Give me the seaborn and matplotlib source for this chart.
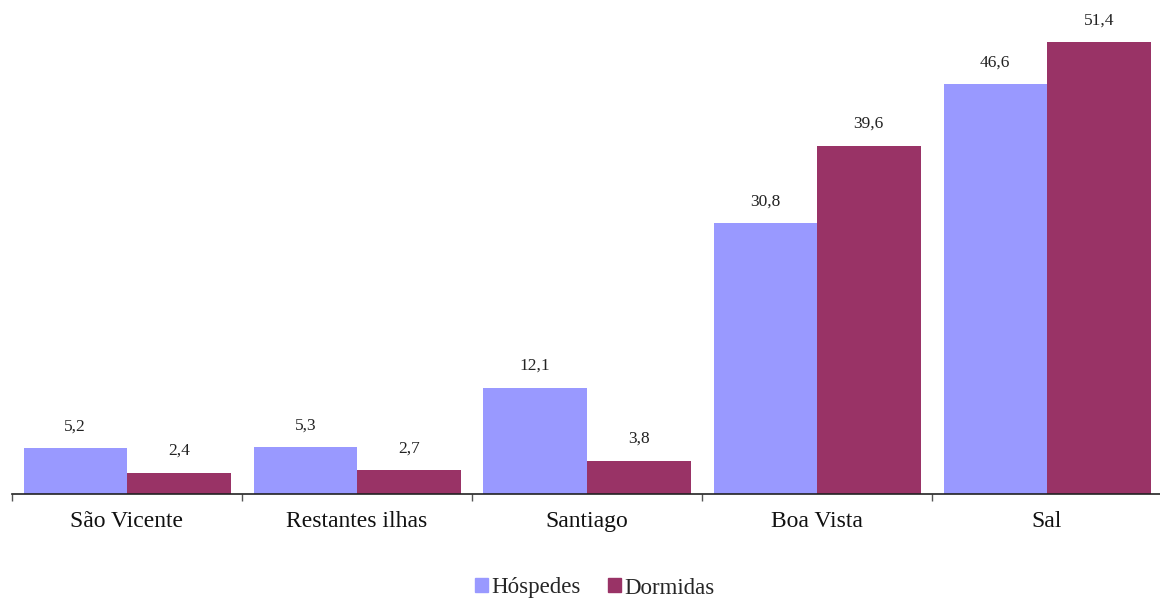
import matplotlib
matplotlib.use("Agg")
import matplotlib.pyplot as plt
import seaborn as sns
import pandas as pd
import numpy as np

ilhas = ["São Vicente", "Restantes ilhas", "Santiago", "Boa Vista", "Sal"]
hospedes = [5.2, 5.3, 12.1, 30.8, 46.6]
dormidas = [2.4, 2.7, 3.8, 39.6, 51.4]
series = ["Hóspedes", "Dormidas"]
cores = ["#9999FF", "#993366"]

df = pd.DataFrame({
    "ilha": ilhas * 2,
    "valor": hospedes + dormidas,
    "serie": [series[0]] * len(ilhas) + [series[1]] * len(ilhas),
})

sns.set_style("white")
plt.rcParams["font.family"] = ["Liberation Serif", "DejaVu Serif"]

fig = plt.figure(figsize=(11.6, 6.01), dpi=100)
ax = fig.add_axes([12 / 1160, 1 - 494 / 601, 1150 / 1160, 494 / 601])

sns.barplot(data=df, x="ilha", y="valor", hue="serie", order=ilhas,
            hue_order=series, palette=cores, width=0.9, gap=0,
            saturation=1, ax=ax, legend=False, edgecolor="none")

for cont in ax.containers:
    labels = [f"{v:.1f}".replace(".", ",") for v in cont.datavalues]
    ax.bar_label(cont, labels=labels, padding=10, fontsize=12.5, color="#222222")

ax.set_xlim(-0.5, len(ilhas) - 0.5)
ax.set_ylim(0, 56.2)
ax.set_xlabel("")
ax.set_ylabel("")
ax.set_yticks([])
for s in ["top", "right", "left"]:
    ax.spines[s].set_visible(False)
ax.spines["bottom"].set_color("#222222")
ax.spines["bottom"].set_linewidth(1.2)

ax.set_xticks(np.arange(-0.5, len(ilhas)), minor=True)
ax.tick_params(axis="x", which="minor", bottom=True, length=5, width=1,
               color="#555555", direction="out")
ax.tick_params(axis="x", which="major", length=0, labelsize=17, pad=12,
               labelcolor="#111111")

handles = [plt.Rectangle((0, 0), 1, 1, color=c) for c in cores]
fig.legend(handles, series, loc="center", bbox_to_anchor=(595 / 1160, 1 - 588 / 601),
           ncol=2, frameon=False, fontsize=16.5, handlelength=0.55, handleheight=0.55,
           handletextpad=0.15, columnspacing=1.2)

fig.savefig("out.png", dpi=100)
